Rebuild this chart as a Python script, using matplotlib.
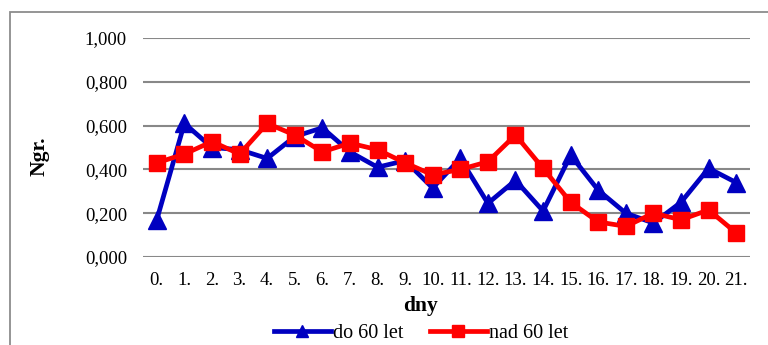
import matplotlib
matplotlib.use("Agg")
import matplotlib.pyplot as plt
from matplotlib.patches import Rectangle
from matplotlib.ticker import FuncFormatter

plt.rcParams['font.family'] = ['Liberation Serif', 'DejaVu Serif']

days = [f"{i}." for i in range(22)]
do_60 = [0.17, 0.61, 0.50, 0.49, 0.45, 0.55, 0.59, 0.48, 0.41, 0.44, 0.315, 0.45,
         0.245, 0.35, 0.21, 0.465, 0.305, 0.20, 0.155, 0.25, 0.405, 0.34]
nad_60 = [0.43, 0.47, 0.527, 0.47, 0.61, 0.557, 0.48, 0.52, 0.49, 0.43, 0.375, 0.40,
          0.435, 0.557, 0.405, 0.25, 0.16, 0.14, 0.20, 0.17, 0.215, 0.11]
y_ticks = [0.0, 0.2, 0.4, 0.6, 0.8, 1.0]

fig = plt.figure(figsize=(7.68, 3.45), dpi=100)
W, H = 768, 345
ax = fig.add_axes([143 / W, 1 - 257 / H, (750 - 143) / W, (257 - 38) / H])

# chart frame running off the right and bottom edges
fig.patches.append(Rectangle((10 / W, -0.1), 1.2, 1.1 - 12 / H,
                             transform=fig.transFigure, fill=False,
                             edgecolor='#8c8c8c', linewidth=1.3))

x = list(range(len(days)))
ax.plot(x, do_60, color='#0000c0', linewidth=3.4, marker='^', markersize=12.5,
        label='do 60 let', zorder=3)
ax.plot(x, nad_60, color='#ff0000', linewidth=3.4, marker='s', markersize=12,
        label='nad 60 let', zorder=4)

ax.set_xlim(-0.5, len(days) - 0.5)
ax.set_ylim(0, 1.0)
ax.set_yticks(y_ticks)
ax.yaxis.set_major_formatter(FuncFormatter(lambda v, p: f"{v:,.3f}".replace('.', ',')))
ax.set_xticks(x)
ax.set_xticklabels(days)
ax.grid(axis='y', color='#888888', linewidth=1.5)
ax.set_axisbelow(True)
for s in ax.spines.values():
    s.set_visible(False)
ax.tick_params(axis='both', length=0, labelsize=13.5, colors='black')
ax.tick_params(axis='y', pad=11.5)
ax.tick_params(axis='x', pad=11)

ax.set_xlabel('dny', fontsize=15.5, fontweight='bold')
ax.xaxis.set_label_coords((420 - 143) / 607, (257 - 296) / 219)
ax.set_ylabel('Ngr.', fontsize=15.5, fontweight='bold')
ax.yaxis.set_label_coords((50 - 143) / 607, (257 - 156) / 219)

fig.legend(loc='center', bbox_to_anchor=(421 / W, 1 - 333 / H), ncol=2, frameon=False,
           fontsize=14.5, handlelength=2.85, handletextpad=0.1, columnspacing=1.3,
           borderaxespad=0, borderpad=0, markerscale=0.7)

fig.savefig('out.png', dpi=100)
